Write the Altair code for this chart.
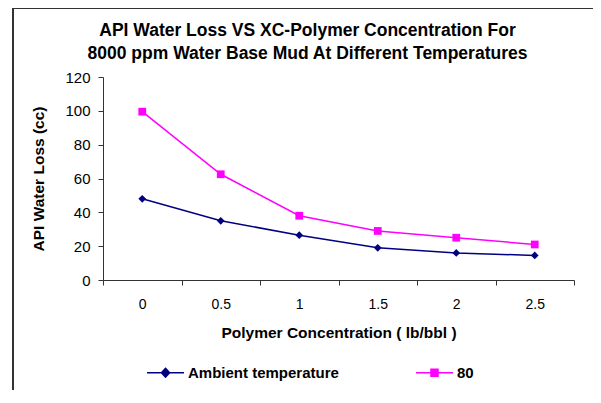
import altair as alt
import pandas as pd

concentrations = ["0", "0.5", "1", "1.5", "2", "2.5"]
ambient = [48, 35, 26.5, 19, 16, 14.5]
temp80 = [99.5, 62.5, 38, 29, 25, 21]
series_names = ["Ambient temperature", "80"]
colors = ["#000080", "#FF00FF"]
markers = ["diamond", "square"]

rows = []
for c, v in zip(concentrations, ambient):
    rows.append({"conc": c, "loss": v, "series": series_names[0], "marker": markers[0]})
for c, v in zip(concentrations, temp80):
    rows.append({"conc": c, "loss": v, "series": series_names[1], "marker": markers[1]})
df = pd.DataFrame(rows)

FONT = "Liberation Sans"

shape_sig = ("datum.value == 'Ambient temperature' ? "
             "'M-1,0L1,0M0,-0.24L0.22,0L0,0.24L-0.22,0Z' : "
             "'M-1,0L1,0M-0.19,-0.19L0.19,-0.19L0.19,0.19L-0.19,0.19Z'")
color_sig = "datum.value == 'Ambient temperature' ? '#000080' : '#FF00FF'"

lines = alt.Chart(df).mark_line(
    strokeWidth=1.5,
    point=alt.OverlayMarkDef(filled=True, size=60, opacity=1),
).encode(
    x=alt.X("conc:N", sort=concentrations, bandPosition=0.5,
            scale=alt.Scale(type="band", paddingInner=0, paddingOuter=0),
            axis=alt.Axis(title="Polymer Concentration ( lb/bbl )", labelAngle=0,
                          tickBand="extent", labelPadding=12, titlePadding=14)),
    y=alt.Y("loss:Q", scale=alt.Scale(domain=[0, 120], nice=False),
            axis=alt.Axis(title="API Water Loss (cc)", values=[0, 20, 40, 60, 80, 100, 120],
                          titlePadding=18, labelPadding=8, labelFontSize=15)),
    color=alt.Color("series:N", scale=alt.Scale(domain=series_names, range=colors),
                    legend=alt.Legend(
                        orient="none", legendX=43, legendY=276, direction="horizontal",
                        title=None, symbolSize=1369, symbolStrokeWidth=1.5,
                        symbolType=alt.ExprRef(expr=shape_sig),
                        symbolFillColor=alt.ExprRef(expr=color_sig),
                        symbolStrokeColor=alt.ExprRef(expr=color_sig),
                        symbolOpacity=1,
                        labelFont=FONT, labelFontSize=15, labelFontWeight="bold",
                        labelColor="#000000", columnPadding=74, labelOffset=3)),
    shape=alt.Shape("marker:N", scale=alt.Scale(domain=markers, range=markers),
                    legend=None),
)

border_left = alt.Chart(df).mark_rule(color="#333333", strokeWidth=2).encode(
    x=alt.value(-90), y=alt.value(-69), y2=alt.value(400))
border_top = alt.Chart(df).mark_rule(color="#333333", strokeWidth=2).encode(
    x=alt.value(-90), x2=alt.value(600), y=alt.value(-69))

chart = alt.layer(lines, border_left, border_top).properties(
    width=471, height=203,
    autosize=alt.AutoSizeParams(type="none"),
    padding={"left": 95, "top": 69, "right": 19, "bottom": 110},
    title=alt.TitleParams(
        ["API Water Loss VS XC-Polymer Concentration For",
         "8000 ppm Water Base Mud At Different Temperatures"],
        font=FONT, fontSize=17.5, fontWeight="bold", color="#000000",
        anchor="middle", dx=-31, offset=-55, lineHeight=23),
).configure_view(strokeWidth=0).configure_axis(
    labelFont=FONT, labelFontSize=14, labelColor="#000000",
    titleFont=FONT, titleFontSize=15.5, titleFontWeight="bold", titleColor="#000000",
    domainColor="#333333", tickColor="#333333", grid=False, tickSize=5,
)

chart.save("out.html", embed_options={"renderer": "svg", "actions": False})
